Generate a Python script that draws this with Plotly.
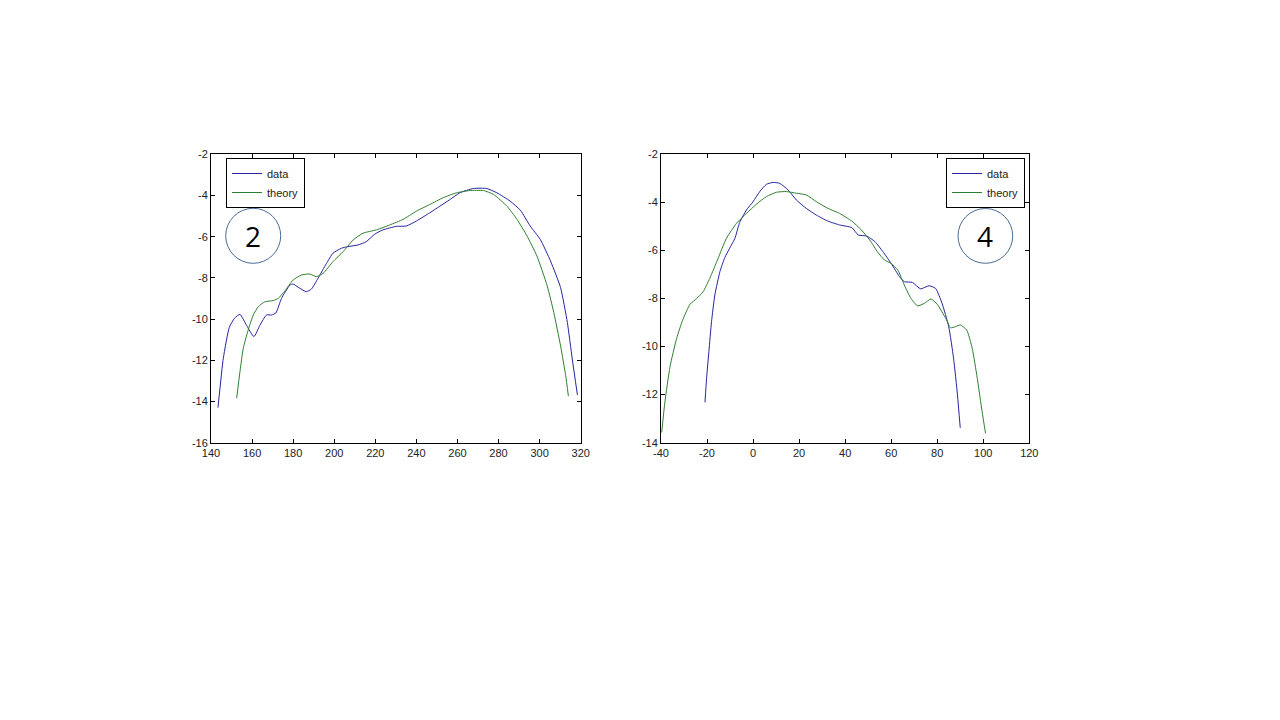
import plotly.graph_objects as go

# ---- Panel 2 (left) ----
left_data_x = [143.4, 146, 148.9, 151.5, 154.1, 157.3, 160.9, 163.8, 167, 169.5, 171.6, 174.3, 178.4, 180, 182.4,
               186.4, 188.9, 192.1, 196.2, 199.4, 203.5, 206.7, 211.6, 215.6, 219.7, 223.7, 230.2, 235.1, 240,
               246.5, 251.4, 256.3, 261.1, 267.7, 274.3, 279.2, 285.6, 290.6, 295.4, 300.3, 305.3, 310.2,
               313.5, 315.9, 318.4]
left_data_y = [-14.3, -11.9, -10.4, -9.95, -9.77, -10.3, -10.85, -10.3, -9.8, -9.8, -9.7, -9.0, -8.35, -8.3, -8.45,
               -8.67, -8.54, -8.02, -7.3, -6.8, -6.56, -6.48, -6.4, -6.24, -5.88, -5.67, -5.5, -5.48, -5.24,
               -4.84, -4.52, -4.2, -3.87, -3.66, -3.66, -3.87, -4.27, -4.71, -5.48, -6.13, -7.18, -8.47,
               -10.16, -11.94, -13.68]

left_theory_x = [152.5, 154.1, 155.7, 158.1, 160.6, 163, 166.2, 170.3, 172.7, 175.9, 180, 184, 188.1, 191.3,
                 194.6, 199.4, 204.3, 209.2, 214, 220.5, 227, 233.5, 240, 246.5, 253, 259.5, 266, 272.7,
                 277.6, 284.1, 289, 293.9, 298.7, 303.7, 306.9, 310.2, 312.7, 314]
left_theory_y = [-13.84, -12.55, -11.42, -10.53, -9.8, -9.4, -9.16, -9.1, -9.0, -8.64, -8.1, -7.86, -7.81, -7.94,
                 -7.78, -7.21, -6.73, -6.16, -5.83, -5.67, -5.43, -5.16, -4.76, -4.44, -4.11, -3.87, -3.76, -3.76,
                 -3.95, -4.52, -5.16, -5.97, -6.94, -8.39, -9.68, -11.3, -12.75, -13.74]

# ---- Panel 4 (right) ----
right_data_x = [-20.9, -20.2, -19.2, -18.05, -16.6, -14.4, -12.3, -9.8, -7.9, -5.8, -2.9, 0, 2.9, 5.8, 8.7, 11.6,
                15.2, 18.8, 23.1, 27.5, 32.5, 37.6, 42.9, 45.7, 49.3, 52.9, 56.4, 60, 63.6, 65.7, 69.2,
                72.8, 76.4, 79.3, 82.1, 85, 87.1, 88.8, 90]
right_data_y = [-12.32, -11.32, -10.21, -8.96, -7.85, -6.88, -6.3, -5.84, -5.5, -4.83, -4.32, -3.97, -3.55, -3.25,
                -3.17, -3.21, -3.48, -3.9, -4.25, -4.53, -4.78, -4.94, -5.05, -5.36, -5.4, -5.63, -6.05, -6.54,
                -7.09, -7.3, -7.33, -7.6, -7.47, -7.58, -8.2, -9.17, -10.49, -12.02, -13.38]

right_theory_x = [-39.7, -38.3, -36.1, -33.2, -30.6, -27.4, -24.5, -21.7, -18.8, -15.2, -11.6, -7.2, -2.9, 1.4,
                  5.8, 10.1, 14.4, 18.8, 23.1, 27.5, 32.5, 37.6, 42.9, 47.1, 50.7, 54.2, 57.1, 60, 62.9,
                  65.7, 68.6, 71.5, 74.4, 77.3, 80, 83.7, 85.8, 88, 90, 92.8, 95.2, 97.4, 99.5, 101]
right_theory_y = [-13.57, -12.3, -10.84, -9.66, -8.9, -8.24, -8.0, -7.72, -7.16, -6.33, -5.5, -4.87, -4.46, -4.08,
                  -3.76, -3.58, -3.55, -3.62, -3.69, -3.97, -4.25, -4.46, -4.78, -5.15, -5.57, -6.08, -6.4, -6.54,
                  -6.82, -7.44, -8.0, -8.31, -8.2, -8.02, -8.24, -8.83, -9.22, -9.17, -9.1, -9.31, -10.07,
                  -11.32, -12.71, -13.61]

left_xticks = [140, 160, 180, 200, 220, 240, 260, 280, 300, 320]
left_yticks = [-16, -14, -12, -10, -8, -6, -4, -2]
right_xticks = [-40, -20, 0, 20, 40, 60, 80, 100, 120]
right_yticks = [-14, -12, -10, -8, -6, -4, -2]

panel_labels = ["2", "4"]
series_names = ["data", "theory"]

BLUE = "#2424a0"
GREEN = "#2f7f2f"


def labels(vals):
    return [str(v) for v in vals]  # plain hyphen-minus like the original


fig = go.Figure()
line_common = dict(width=1, shape="spline", smoothing=0.5)

fig.add_trace(go.Scatter(x=left_data_x, y=left_data_y, mode="lines", name=series_names[0],
                         line=dict(color=BLUE, **line_common), xaxis="x", yaxis="y", legend="legend"))
fig.add_trace(go.Scatter(x=left_theory_x, y=left_theory_y, mode="lines", name=series_names[1],
                         line=dict(color=GREEN, **line_common), xaxis="x", yaxis="y", legend="legend"))
fig.add_trace(go.Scatter(x=right_data_x, y=right_data_y, mode="lines", name=series_names[0],
                         line=dict(color=BLUE, **line_common), xaxis="x2", yaxis="y2", legend="legend2"))
fig.add_trace(go.Scatter(x=right_theory_x, y=right_theory_y, mode="lines", name=series_names[1],
                         line=dict(color=GREEN, **line_common), xaxis="x2", yaxis="y2", legend="legend2"))

W, H = 1280, 720
ydom = [1 - 442.7 / H, 1 - 154.3 / H]
axis_common = dict(showline=True, linecolor="black", linewidth=1, mirror="ticks", ticks="inside",
                   ticklen=4, tickcolor="black", showgrid=False, zeroline=False, automargin=False,
                   tickfont=dict(family="Liberation Sans, Arial", size=11, color="#222222"))
legend_font = dict(family="Liberation Sans, Arial", size=11, color="#222222")

fig.update_layout(
    width=W, height=H, margin=dict(l=0, r=0, t=0, b=0, pad=0, autoexpand=False),
    paper_bgcolor="white", plot_bgcolor="white",
    xaxis=dict(domain=[211 / W, 580.7 / W], range=[140, 320], tickvals=left_xticks,
               ticktext=labels(left_xticks), anchor="y", **axis_common),
    yaxis=dict(domain=ydom, range=[-16, -2], tickvals=left_yticks,
               ticktext=labels(left_yticks), anchor="x", **axis_common),
    xaxis2=dict(domain=[661 / W, 1029.3 / W], range=[-40, 120], tickvals=right_xticks,
                ticktext=labels(right_xticks), anchor="y2", **axis_common),
    yaxis2=dict(domain=ydom, range=[-14, -2], tickvals=right_yticks,
                ticktext=labels(right_yticks), anchor="x2", **axis_common),
    legend=dict(x=226 / W, y=1 - 158 / H, xanchor="left", yanchor="top", bgcolor="white",
                bordercolor="black", borderwidth=1, font=legend_font, itemwidth=30, tracegroupgap=0),
    legend2=dict(x=1025 / W, y=1 - 158 / H, xanchor="right", yanchor="top", bgcolor="white",
                 bordercolor="black", borderwidth=1, font=legend_font, itemwidth=30, tracegroupgap=0),
    showlegend=True,
)

circles = [(225.7, 208.3, 280.7, 263.3), (958, 208.5, 1012.7, 263.3)]
for (x0, y0, x1, y1), lab in zip(circles, panel_labels):
    fig.add_shape(type="circle", xref="paper", yref="paper",
                  x0=x0 / W, x1=x1 / W, y0=1 - y1 / H, y1=1 - y0 / H,
                  line=dict(color="#4a6a96", width=1))
    fig.add_annotation(x=(x0 + x1) / 2 / W, y=1 - (y0 + y1) / 2 / H, xref="paper", yref="paper",
                       xanchor="center", yanchor="middle",
                       text=lab, showarrow=False, font=dict(family="Open Sans, Noto Sans", size=28, color="black"))

fig.write_html(
    "out.html",
    config={"displayModeBar": False, "responsive": False},
    post_script=(
        "document.documentElement.style.margin='0';document.documentElement.style.padding='0';"
        "document.body.style.margin='0';document.body.style.padding='0';"
        "document.documentElement.style.overflow='hidden';document.body.style.overflow='hidden';"
    ),
)
